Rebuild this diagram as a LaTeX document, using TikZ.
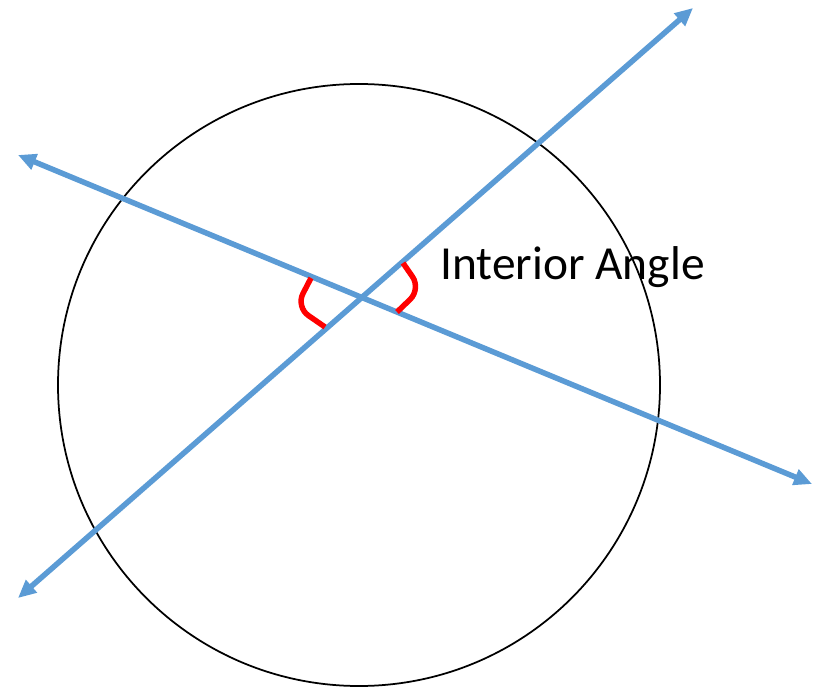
\documentclass[tikz,border=0pt]{standalone}
\usepackage{fontspec}
\setmainfont{Carlito}
\usetikzlibrary{arrows.meta}
\begin{document}
\begin{tikzpicture}[x=0.02cm, y=-0.02cm,
  secant/.style={draw={rgb,255:red,91;green,155;blue,213}, line width=0.11cm, {Triangle[length=0.36cm,width=0.32cm]}-{Triangle[length=0.36cm,width=0.32cm]}},
  mark angle/.style={draw=red, line width=0.11cm, rounded corners=0.3cm},
  label text/.style={font=\fontsize{27}{30}\selectfont, inner sep=0pt, anchor=base west}]
\useasboundingbox (0,0) rectangle (813,688);
\draw[line width=0.035cm] (359,385) circle (301);
\coordinate (p1) at (18,598);
\coordinate (p2) at (693,8);
\coordinate (q1) at (18,155);
\coordinate (q2) at (812,484);
\draw[secant] (p1) -- (p2);
\draw[secant] (q1) -- (q2);
\draw[mark angle] (311,278) -- (296,307) -- (325,327);
\draw[mark angle] (403,263) -- (421,289) -- (397,312);
\node[label text] (lbl) at (440,280) {Interior Angle};
\end{tikzpicture}
\end{document}
